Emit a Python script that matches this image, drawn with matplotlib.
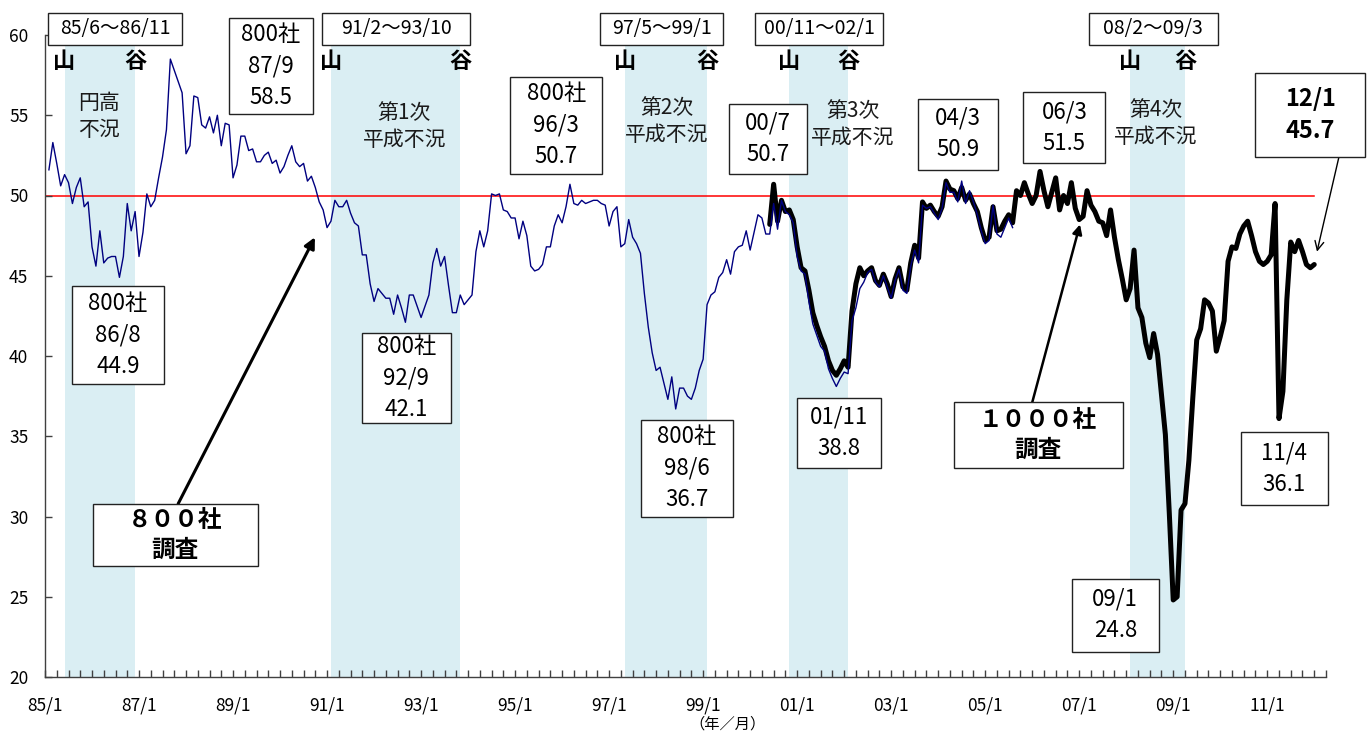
import numpy as np
import matplotlib
matplotlib.use("Agg")
import matplotlib.pyplot as plt
from matplotlib.patches import Rectangle

plt.rcParams['font.family'] = ['Noto Sans CJK JP', 'DejaVu Sans']

# 800社調査 (85/2 ～ 05/8)
survey800_start = "85/2"
survey800 = [
    51.6, 53.3, 52.0, 50.6, 51.3, 50.8, 49.5, 50.5, 51.1, 49.3, 49.6,
    46.8, 45.6, 47.8, 45.8, 46.1, 46.2, 46.2, 44.9, 46.2, 49.5, 47.8, 49.0,
    46.2, 47.7, 50.1, 49.3, 49.7, 51.1, 52.4, 54.1, 58.5, 57.8, 57.1, 56.4,
    52.6, 53.1, 56.2, 56.1, 54.4, 54.2, 54.9, 53.9, 55.0, 53.1, 54.5, 54.4,
    51.1, 51.9, 53.7, 53.7, 52.8, 52.9, 52.1, 52.1, 52.5, 52.7, 52.0, 52.2,
    51.4, 51.8, 52.5, 53.1, 52.1, 51.8, 52.0, 50.9, 51.2, 50.5, 49.6, 49.1,
    48.0, 48.4, 49.7, 49.3, 49.3, 49.7, 48.9, 48.3, 48.1, 46.3, 46.3, 44.5,
    43.4, 44.2, 43.9, 43.6, 43.6, 42.6, 43.8, 43.0, 42.1, 43.8, 43.8, 43.1,
    42.4, 43.1, 43.8, 45.8, 46.7, 45.6, 46.2, 44.4, 42.7, 42.7, 43.8, 43.2,
    43.5, 43.8, 46.5, 47.8, 46.8, 47.8, 50.1, 50.0, 50.1, 49.1, 49.0, 48.6,
    48.6, 47.3, 48.4, 47.5, 45.6, 45.3, 45.4, 45.7, 46.8, 46.8, 48.1, 48.8,
    48.3, 49.3, 50.7, 49.5, 49.4, 49.7, 49.5, 49.6, 49.7, 49.7, 49.5, 49.4,
    48.1, 49.0, 49.3, 46.8, 47.0, 48.5, 47.4, 47.0, 46.4, 43.9, 41.8, 40.2,
    39.1, 39.3, 38.3, 37.3, 38.7, 36.7, 38.0, 38.0, 37.5, 37.3, 38.0, 39.1,
    39.8, 43.2, 43.8, 44.0, 44.9, 45.2, 46.0, 45.1, 46.5, 46.8, 46.9, 47.8,
    46.6, 47.7, 48.8, 48.6, 47.6, 47.6, 49.5, 47.9, 49.7, 49.0, 48.8, 48.3,
    46.2, 45.3, 45.1, 43.4, 42.0, 41.3, 40.6, 40.3, 39.2, 38.6, 38.1, 38.6,
    39.0, 38.9, 42.2, 43.0, 44.2, 44.6, 45.2, 45.4, 44.6, 44.3, 45.0, 44.3,
    43.6, 44.7, 45.4, 44.1, 43.9, 45.6, 46.6, 45.8, 49.4, 49.2, 49.3, 48.9,
    48.5, 49.2, 50.8, 50.2, 50.2, 49.6, 50.9, 49.5, 50.3, 49.6, 48.8, 47.8,
    47.0, 47.2, 49.4, 47.6, 47.4, 48.0, 48.6, 48.0,
]

# 1000社調査 (00/6 ～ 12/1)
survey1000_start = "00/6"
survey1000 = [
    48.2, 50.7, 48.4, 49.7, 49.0, 49.1, 48.5, 46.8, 45.5, 45.3, 44.1, 42.7,
    41.9, 41.2, 40.6, 39.7, 39.1, 38.8, 39.2, 39.7, 39.3, 42.8, 44.5, 45.5,
    45.0, 45.3, 45.5, 44.7, 44.4, 45.1, 44.5, 43.7, 44.8, 45.5, 44.3, 44.1,
    45.8, 46.9, 46.1, 49.6, 49.2, 49.4, 49.0, 48.7, 49.3, 50.9, 50.4, 50.3,
    49.8, 50.5, 49.7, 50.1, 49.5, 49.0, 48.0, 47.2, 47.4, 49.3, 47.8, 47.9,
    48.4, 48.8, 48.3, 50.3, 50.0, 50.8, 50.1, 49.5, 50.0, 51.5, 50.3, 49.3,
    50.2, 51.1, 49.1, 50.0, 49.5, 50.8, 49.2, 48.5, 48.7, 50.3, 49.4, 49.0,
    48.4, 48.3, 47.5, 49.1, 47.4, 46.0, 44.8, 43.5, 44.2, 46.6, 43.0, 42.4,
    40.8, 39.9, 41.4, 40.1, 37.6, 35.1, 30.2, 24.8, 25.0, 30.4, 30.8, 33.5,
    37.4, 41.0, 41.7, 43.5, 43.3, 42.8, 40.3, 41.2, 42.2, 45.9, 46.8, 46.7,
    47.6, 48.1, 48.4, 47.5, 46.5, 45.9, 45.7, 45.9, 46.3, 49.5, 36.1, 37.8,
    43.5, 47.1, 46.5, 47.2, 46.5, 45.7, 45.5, 45.7,
]

# 景気後退期 (山～谷)
recession_periods = [("85/6", "86/11"), ("91/2", "93/10"), ("97/5", "99/1"),
                     ("00/11", "02/1"), ("08/2", "09/3")]
recession_names = ["円高\n不況", "第1次\n平成不況", "第2次\n平成不況",
                   "第3次\n平成不況", "第4次\n平成不況"]


def month_index(label):
    yy, mm = label.split("/")
    y = int(yy)
    year = 1900 + y if y >= 50 else 2000 + y
    return (year - 1985) * 12 + int(mm) - 1


W, H = 1370, 731
fig = plt.figure(figsize=(W / 100, H / 100), dpi=100)
ax = fig.add_axes([45 / W, 54 / H, 1281 / W, 642 / H])
ax.set_xlim(0, 327)
ax.set_ylim(20, 60)

PX_X = 327 / 1281   # 1px → 月
PX_Y = 40 / 642     # 1px → DI


def box(xm, yv, text, w, h, size, weight="normal", ls=1.45):
    dx, dy = w * PX_X, h * PX_Y
    ax.add_patch(Rectangle((xm - dx / 2, yv - dy / 2), dx, dy, facecolor="white",
                           edgecolor="#222222", lw=1.0, zorder=5, clip_on=False))
    ax.text(xm, yv, text, ha="center", va="center", fontsize=size,
            fontweight=weight, linespacing=ls, zorder=6, clip_on=False)


# 景気後退期の網掛け
band_top = (59.45 - 20) / 40
period_box = [(17.9, 134), (89.6, 148), (157.5, 123), (197.6, 128), (282.9, 129)]
for (s, e), (bx, bw) in zip(recession_periods, period_box):
    ms, me = month_index(s), month_index(e) + 1
    ax.axvspan(ms, me, ymin=0, ymax=band_top, color="#DAEEF3", lw=0, zorder=0)
    ax.text(ms, 58.35, "山", ha="center", va="center", fontsize=16,
            fontweight="bold", zorder=4)
    ax.text(me, 58.35, "谷", ha="center", va="center", fontsize=16,
            fontweight="bold", zorder=4)
    box(bx, 60.4, f"{s}～{e}", bw, 32, 14)

name_pos = [(13.8, 54.9), (91.7, 54.3), (158.8, 54.6), (206.3, 54.4), (283.6, 54.5)]
for (xm, yv), name in zip(name_pos, recession_names):
    ax.text(xm, yv, name, ha="center", va="center", fontsize=15,
            linespacing=1.3, color="#1a1a1a", zorder=4)

m800 = month_index(survey800_start) + np.arange(len(survey800))
m1000 = month_index(survey1000_start) + np.arange(len(survey1000))

ax.plot([0, m1000[-1]], [50, 50], color="red", lw=1.1, zorder=1)
ax.plot(m1000, survey1000, color="black", lw=3.6, zorder=2,
        solid_joinstyle="round", solid_capstyle="round")
ax.plot(m800, survey800, color="#000080", lw=1.0, zorder=3)

# 注記ボックス
box(57.7, 58.07, "800社\n87/9\n58.5", 84, 96, 16)
box(130.5, 54.39, "800社\n96/3\n50.7", 92, 97, 16)
box(184.6, 53.52, "00/7\n50.7", 78, 70, 16)
box(233.1, 53.83, "04/3\n50.9", 80, 71, 16)
box(260.2, 54.21, "06/3\n51.5", 82, 71, 16)
box(323.0, 55.02, "12/1\n45.7", 110, 84, 17, weight="bold")
box(18.6, 41.31, "800社\n86/8\n44.9", 92, 98, 16)
box(92.2, 38.63, "800社\n92/9\n42.1", 89, 90, 16)
box(163.9, 33.02, "800社\n98/6\n36.7", 92, 97, 16)
box(202.7, 35.2, "01/11\n38.8", 84, 70, 16)
box(273.2, 23.86, "09/1\n24.8", 87, 73, 16)
box(316.3, 32.96, "11/4\n36.1", 87, 73, 16)
box(33.2, 28.85, "８００社\n調査", 165, 62, 17, weight="bold", ls=1.3)
box(253.5, 35.08, "１０００社\n調査", 169, 66, 17, weight="bold", ls=1.3)

ax.annotate("", xy=(68.9, 47.4), xytext=(34.0, 30.8),
            arrowprops=dict(arrowstyle="-|>", color="black", lw=2.2,
                            mutation_scale=16, shrinkA=0, shrinkB=0),
            annotation_clip=False, zorder=4)
ax.annotate("", xy=(264.2, 48.2), xytext=(252.0, 37.1),
            arrowprops=dict(arrowstyle="-|>", color="black", lw=1.8,
                            mutation_scale=14, shrinkA=0, shrinkB=0),
            annotation_clip=False, zorder=4)
ax.annotate("", xy=(324.7, 46.5), xytext=(330.3, 52.4),
            arrowprops=dict(arrowstyle="->", color="black", lw=1.0,
                            mutation_scale=16, shrinkA=0, shrinkB=0),
            annotation_clip=False, zorder=4)

# 軸
xt = list(range(0, 328, 3))
xl = [f"{(85 + m // 12) % 100:02d}/1" if m % 24 == 0 else "" for m in xt]
ax.set_xticks(xt)
ax.set_xticklabels(xl)
ax.set_yticks(range(20, 61, 5))
ax.tick_params(axis="x", direction="in", length=5, width=1, color="#404040",
               labelsize=12.5, pad=14)
ax.tick_params(axis="y", direction="in", length=5, width=1, color="#404040",
               labelsize=12.5, pad=12)
for side in ("top", "right"):
    ax.spines[side].set_visible(False)
for side in ("left", "bottom"):
    ax.spines[side].set_color("#404040")
    ax.spines[side].set_linewidth(1.0)

fig.text(727 / W, 1 - 724 / H, "（年／月）", ha="center", va="center", fontsize=11)

fig.savefig("out.png", dpi=100)
